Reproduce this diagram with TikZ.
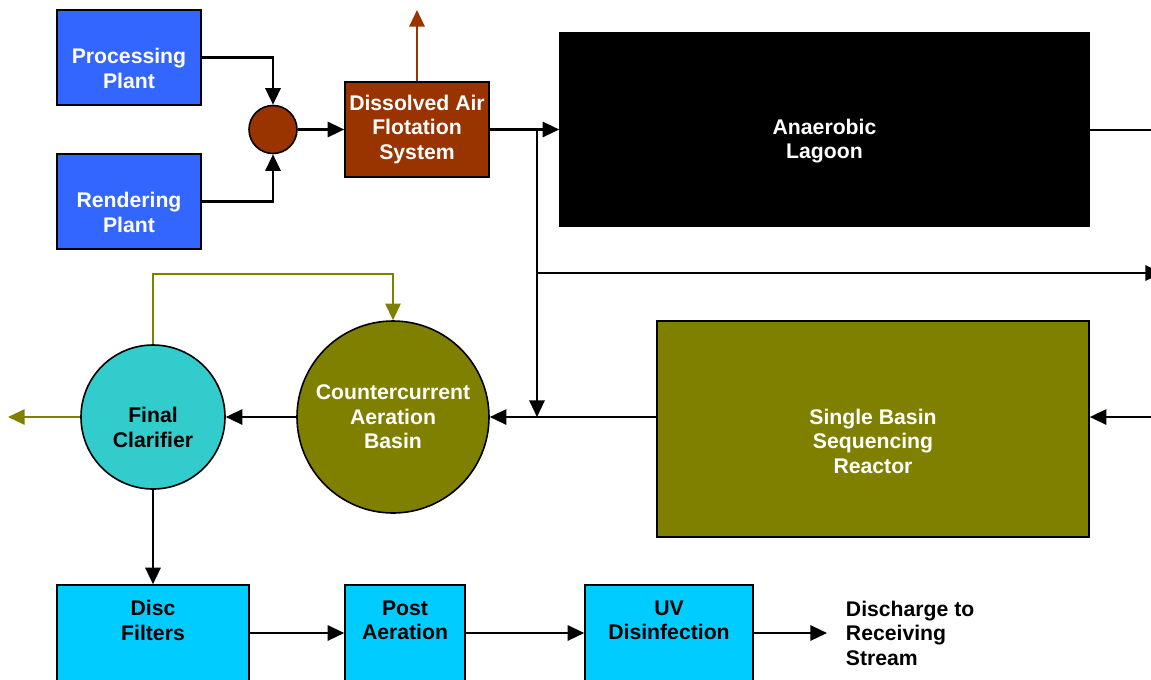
\documentclass[tikz,border=0pt]{standalone}
\usepackage{fontspec}
\setmainfont{Liberation Sans}
\usetikzlibrary{arrows.meta}
\definecolor{WWBlue}{HTML}{3366FF}
\definecolor{WWBrown}{HTML}{993300}
\definecolor{WWOlive}{HTML}{808000}
\definecolor{WWTeal}{HTML}{33CCCC}
\definecolor{WWCyan}{HTML}{00CCFF}

\begin{document}
\begin{tikzpicture}[x=0.75pt,y=-0.75pt,
      >={Triangle[length=12.5pt,width=11.5pt]},
      txt/.style={font=\bfseries\fontsize{15.9}{18.4}\selectfont,align=center},
      box/.style={draw=black,line width=1.2pt,inner sep=0pt,txt},
      disk/.style={box,circle},
      flow/.style={->,line width=1.7pt},
      back/.style={->,line width=1.4pt,color=WWOlive}
    ]
    \clip (0,0) rectangle (1151,679);

    % sources and pretreatment
    \node[box,fill=WWBlue,minimum width=108pt,minimum height=71.25pt,
      label={[txt,text=white,yshift=-8pt]center:{Processing\\Plant}}]
      (proc) at (129,57.5) {};
    \node[box,fill=WWBlue,minimum width=108pt,minimum height=71.25pt,
      label={[txt,text=white,yshift=-8pt]center:{Rendering\\Plant}}]
      (rend) at (129,201.5) {};
    \node[disk,fill=WWBrown,minimum size=36pt] (mix) at (273,129.5) {};
    \node[box,fill=WWBrown,text=white,minimum width=108pt,minimum height=71.25pt]
      (daf) at (417,129.5) {Dissolved Air\\Flotation\\System};
    \coordinate (vent) at (417,10);

    % biological treatment
    \node[box,fill=black,minimum width=396.75pt,minimum height=144.75pt,
      label={[txt,text=white,yshift=-8.5pt]center:{Anaerobic\\Lagoon}}]
      (lagoon) at (824.5,129.5) {};
    \node[box,fill=WWOlive,minimum width=324pt,minimum height=162pt,
      label={[txt,text=white,yshift=-9pt]center:{Single Basin\\Sequencing\\Reactor}}]
      (sbr) at (873,429) {};
    \node[disk,fill=WWOlive,text=white,minimum size=144pt]
      (basin) at (393,417) {Countercurrent\\Aeration\\Basin};
    \node[disk,fill=WWTeal,minimum size=108pt,
      label={[txt,yshift=-8pt]center:{Final\\Clarifier}}]
      (clar) at (153,417) {};
    \coordinate (tap) at (537,129.5);
    \coordinate (outA) at (1162,273);
    \coordinate (outB) at (1151,129.5);
    \coordinate (inB) at (1151,417);
    \coordinate (waste) at (8,417);
    \coordinate (ret) at (153,274);

    % polishing
    \node[box,fill=WWCyan,minimum width=144pt,minimum height=72pt,
      label={[txt,yshift=9.5pt]center:{Disc\\Filters}}]
      (disc) at (153,633) {};
    \node[box,fill=WWCyan,minimum width=90pt,minimum height=72pt,
      label={[txt,yshift=9.5pt]center:{Post\\Aeration}}]
      (post) at (405,633) {};
    \node[box,fill=WWCyan,minimum width=126pt,minimum height=72pt,
      label={[txt,yshift=9.5pt]center:{UV\\Disinfection}}]
      (uv) at (669,633) {};
    \node[txt,align=left,anchor=west,inner sep=0pt,inner xsep=14pt]
      (dis) at (827,633) {Discharge to\\Receiving\\Stream};

    \draw[flow] (proc.east) -| (mix.north);
    \draw[flow] (rend.east) -| (mix.south);
    \draw[flow] (mix) -- (daf);
    \draw[flow,color=WWBrown] (daf.north) -- (vent);
    \draw[flow] (daf.east) -- (lagoon.west);
    \draw[line width=1.5pt] (lagoon.east) -- (outB);
    \draw[flow] (tap) -- (tap |- basin.east);
    \draw[flow] (tap |- outA) -- (outA);
    \draw[flow] (inB) -- (inB -| sbr.east);
    \draw[flow] (sbr.west |- basin.east) -- (basin.east);
    \draw[flow] (basin.west) -- (clar.east);
    \draw[back] (clar.west) -- (waste);
    \draw[back] (clar.north) -- (ret) -| (basin.north);
    \draw[flow] (clar.south) -- (disc.north);
    \draw[flow] (disc) -- (post);
    \draw[flow] (post) -- (uv);
    \draw[flow] (uv.east) -- (dis.west);
  \end{tikzpicture}
\end{document}
